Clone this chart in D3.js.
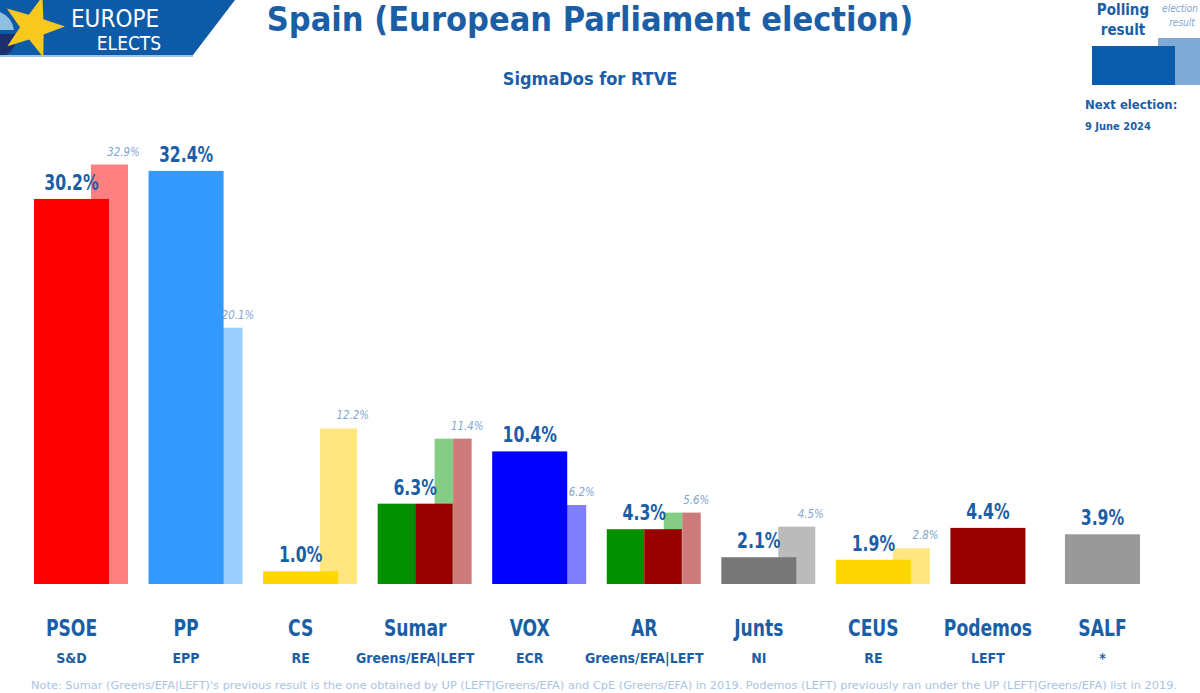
<!DOCTYPE html>
<html><head><meta charset="utf-8">
<script src="https://cdn.jsdelivr.net/npm/d3@7"></script>
<style>
html,body{margin:0;padding:0;background:#fff;}
svg{display:block;}
text{font-family:"DejaVu Sans Condensed","DejaVu Sans",sans-serif;font-stretch:condensed;}
</style></head>
<body>
<svg id="chart" width="1200" height="693"></svg>
<script>
const parties = ["PSOE","PP","CS","Sumar","VOX","AR","Junts","CEUS","Podemos","SALF"];
const groups = ["S&D","EPP","RE","Greens/EFA|LEFT","ECR","Greens/EFA|LEFT","NI","RE","LEFT","*"];
const polls = [30.2,32.4,1.0,6.3,10.4,4.3,2.1,1.9,4.4,3.9];
const previous = [32.9,20.1,12.2,11.4,6.2,5.6,4.5,2.8,null,null];
const mainColors = [["#ff0000"],["#3399ff"],["#ffd700"],["#009000","#990000"],["#0000ff"],["#009000","#990000"],["#777777"],["#ffd700"],["#990000"],["#999999"]];
const prevColors = [["#ff8080"],["#99ccff"],["#ffe680"],["#85cc85","#cc7a7a"],["#8080ff"],["#85cc85","#cc7a7a"],["#bbbbbb"],["#ffe680"],[],[]];
const title = "Spain (European Parliament election)";
const subtitle = "SigmaDos for RTVE";
const note = "Note: Sumar (Greens/EFA|LEFT)'s previous result is the one obtained by UP (LEFT|Greens/EFA) and CpE (Greens/EFA) in 2019. Podemos (LEFT) previously ran under the UP (LEFT|Greens/EFA) list in 2019.";

const blue = "#1c5ea6";
const lightLabel = "#7fa6d0";
const svg = d3.select("#chart");

const x = d3.scaleBand().domain(parties).range([34, 1179.5]).paddingInner(0).paddingOuter(0);
const y = d3.scaleLinear().domain([0, 35]).range([584, 584 - 12.75 * 35]);
const mainW = x.bandwidth() * 0.655;
const prevOff = x.bandwidth() * 0.4975;
const prevW = x.bandwidth() * 0.323;
const squeeze = 0.83;

const data = parties.map((p, i) => ({p, g: groups[i], v: polls[i], pv: previous[i], mc: mainColors[i], pc: prevColors[i]}));

function narrowText(parent, cx, cy, size, txt, opts = {}) {
  const t = parent.append("g").attr("transform", `translate(${cx},${cy}) scale(${opts.sx || squeeze},1)`)
    .append("text")
    .attr("x", 0).attr("y", 0)
    .attr("text-anchor", "middle")
    .attr("font-size", size)
    .attr("font-weight", opts.italic ? "normal" : "bold")
    .attr("fill", opts.fill || blue)
    .text(txt);
  if (opts.italic) t.attr("font-style", "italic");
  return t;
}

// previous bars (behind)
const gp = svg.append("g");
data.filter(d => d.pv != null).forEach(d => {
  const n = d.pc.length;
  d.pc.forEach((c, k) => {
    gp.append("rect")
      .attr("x", x(d.p) + prevOff + k * prevW / n)
      .attr("width", prevW / n)
      .attr("y", y(d.pv))
      .attr("height", y(0) - y(d.pv))
      .attr("fill", c);
  });
  narrowText(gp, x(d.p) + prevOff + prevW * 0.88, y(d.pv) - 9, 12,
    d3.format(".1f")(d.pv) + "%", {italic: true, fill: lightLabel, sx: 0.95});
});

// main bars
const gm = svg.append("g");
data.forEach(d => {
  const n = d.mc.length;
  d.mc.forEach((c, k) => {
    gm.append("rect")
      .attr("x", x(d.p) + k * mainW / n)
      .attr("width", mainW / n)
      .attr("y", y(d.v))
      .attr("height", y(0) - y(d.v))
      .attr("fill", c);
  });
  narrowText(gm, x(d.p) + mainW / 2, y(d.v) - 9, 21, d3.format(".1f")(d.v) + "%");
  narrowText(gm, x(d.p) + mainW / 2, 636, 23, d.p);
  gm.append("text")
    .attr("x", x(d.p) + mainW / 2)
    .attr("y", 663)
    .attr("text-anchor", "middle")
    .attr("font-size", 14)
    .attr("font-weight", "bold")
    .attr("fill", blue)
    .text(d.g);
});

// note
svg.append("text")
  .attr("x", 604).attr("y", 689)
  .attr("text-anchor", "middle")
  .attr("font-size", 11)
  .attr("fill", "#aac4df")
  .attr("textLength", 1146).attr("lengthAdjust", "spacingAndGlyphs")
  .text(note);

// title
svg.append("text").attr("x", 590).attr("y", 31).attr("text-anchor", "middle")
  .attr("font-size", 34).attr("font-weight", "bold").attr("fill", blue).text(title);
svg.append("text").attr("x", 590).attr("y", 85).attr("text-anchor", "middle")
  .attr("font-size", 18).attr("font-weight", "bold").attr("fill", blue).text(subtitle);

// logo
const logo = svg.append("g");
logo.append("polygon").attr("points", "0,0 235,0 193,55 0,55").attr("fill", "#0d5aa7");
logo.append("rect").attr("x", 0).attr("y", 55).attr("width", 193).attr("height", 2).attr("fill", "#9cc3e6");
logo.append("path").attr("d", "M0,12 A22,22 0 0 1 14,30 L0,30 Z").attr("fill", "#8fbfe0");
logo.append("path").attr("d", "M0,34 L16,34 A20,20 0 0 1 6,55 L0,55 Z").attr("fill", "#1c2f6e");
const starPts = [];
for (let k = 0; k < 10; k++) {
  const r = k % 2 === 0 ? 32 : 13;
  const a = -Math.PI / 2 + 0.3 + k * Math.PI / 5;
  starPts.push([33 + r * Math.cos(a), 27 + r * Math.sin(a)]);
}
logo.append("polygon").attr("points", starPts.map(p => p.join(",")).join(" ")).attr("fill", "#f7c81e");
logo.append("text").attr("x", 115).attr("y", 27).attr("text-anchor", "middle")
  .attr("font-size", 24).attr("fill", "#fff").text("EUROPE");
logo.append("text").attr("x", 129).attr("y", 50).attr("text-anchor", "middle")
  .attr("font-size", 19).attr("fill", "#fff").text("ELECTS");

// legend
const lg = svg.append("g");
lg.append("rect").attr("x", 1158).attr("y", 38).attr("width", 42).attr("height", 47).attr("fill", "#80aad6");
lg.append("rect").attr("x", 1092).attr("y", 46).attr("width", 83).attr("height", 39).attr("fill", "#0b5cad");
lg.append("text").attr("x", 1123).attr("y", 15).attr("text-anchor", "middle")
  .attr("font-size", 15).attr("font-weight", "bold").attr("fill", blue).text("Polling");
lg.append("text").attr("x", 1123).attr("y", 35).attr("text-anchor", "middle")
  .attr("font-size", 15).attr("font-weight", "bold").attr("fill", blue).text("result");
lg.append("text").attr("x", 1180).attr("y", 12).attr("text-anchor", "middle")
  .attr("font-size", 10).attr("font-style", "italic").attr("fill", lightLabel).text("election");
lg.append("text").attr("x", 1182).attr("y", 26).attr("text-anchor", "middle")
  .attr("font-size", 10).attr("font-style", "italic").attr("fill", lightLabel).text("result");
lg.append("text").attr("x", 1085).attr("y", 109)
  .attr("font-size", 13).attr("font-weight", "bold").attr("fill", blue).text("Next election:");
lg.append("text").attr("x", 1085).attr("y", 130)
  .attr("font-size", 11).attr("font-weight", "bold").attr("fill", blue).text("9 June 2024");
</script>
</body></html>
